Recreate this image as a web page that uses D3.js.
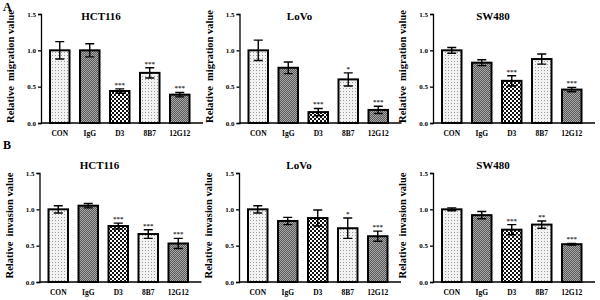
<!DOCTYPE html>
<html>
<head>
<meta charset="utf-8">
<script src="https://cdn.jsdelivr.net/npm/d3@7"></script>
<style>
  body { margin: 0; background: #fff; }
  svg { display: block; font-family: "Liberation Serif", "DejaVu Serif", serif; font-weight: bold; }
</style>
</head>
<body>
<div id="chart"></div>
<script>
// --- data ---
const categories = ["CON", "IgG", "D3", "8B7", "12G12"];
const cellLines = ["HCT116", "LoVo", "SW480"];
const yTicks = [0.0, 0.5, 1.0, 1.5];

const migrationHCT116 = [1.00, 1.00, 0.44, 0.69, 0.39];
const migrationHCT116Err = [0.12, 0.09, 0.03, 0.07, 0.03];
const migrationHCT116Sig = ["", "", "***", "***", "***"];

const migrationLoVo = [1.00, 0.76, 0.15, 0.60, 0.18];
const migrationLoVoErr = [0.14, 0.08, 0.05, 0.09, 0.05];
const migrationLoVoSig = ["", "", "***", "*", "***"];

const migrationSW480 = [1.00, 0.83, 0.58, 0.88, 0.46];
const migrationSW480Err = [0.04, 0.04, 0.07, 0.07, 0.03];
const migrationSW480Sig = ["", "", "***", "", "***"];

const invasionHCT116 = [1.00, 1.05, 0.77, 0.66, 0.53];
const invasionHCT116Err = [0.05, 0.03, 0.04, 0.06, 0.07];
const invasionHCT116Sig = ["", "", "***", "***", "***"];

const invasionLoVo = [1.00, 0.84, 0.88, 0.74, 0.63];
const invasionLoVoErr = [0.05, 0.05, 0.11, 0.14, 0.07];
const invasionLoVoSig = ["", "", "", "*", "***"];

const invasionSW480 = [1.00, 0.92, 0.72, 0.79, 0.52];
const invasionSW480Err = [0.02, 0.05, 0.07, 0.05, 0.01];
const invasionSW480Sig = ["", "", "***", "**", "***"];

const svg = d3.select("#chart").append("svg")
    .attr("width", 600)
    .attr("height", 300);

// Fill patterns (dotted / dark checker / black-white checker)
const defs = svg.append("defs");

const dots = defs.append("pattern").attr("id", "p-dots")
    .attr("patternUnits", "userSpaceOnUse").attr("width", 3).attr("height", 3);
dots.append("rect").attr("width", 3).attr("height", 3).attr("fill", "#f2f2f2");
dots.append("rect").attr("x", 1).attr("y", 1).attr("width", 1).attr("height", 1).attr("fill", "#9a9a9a");

const dark = defs.append("pattern").attr("id", "p-dark")
    .attr("patternUnits", "userSpaceOnUse").attr("width", 2).attr("height", 2);
dark.append("rect").attr("width", 2).attr("height", 2).attr("fill", "#5a5a5a");
dark.append("rect").attr("width", 1).attr("height", 1).attr("fill", "#a8a8a8");
dark.append("rect").attr("x", 1).attr("y", 1).attr("width", 1).attr("height", 1).attr("fill", "#a8a8a8");

const check = defs.append("pattern").attr("id", "p-check")
    .attr("patternUnits", "userSpaceOnUse").attr("width", 4).attr("height", 4);
check.append("rect").attr("width", 4).attr("height", 4).attr("fill", "#fff");
check.append("rect").attr("width", 2).attr("height", 2).attr("fill", "#111");
check.append("rect").attr("x", 2).attr("y", 2).attr("width", 2).attr("height", 2).attr("fill", "#111");

const fills = ["url(#p-dots)", "url(#p-dark)", "url(#p-check)", "url(#p-dots)", "url(#p-dark)"];

// panel geometry
const rows = [
    { letter: "A", letterY: 11, ylabel: "Relative  migration value", y0: 123, y1: 14, titleY: 20, axisX: [41, 239.5, 433],
      values: [migrationHCT116, migrationLoVo, migrationSW480],
      errs: [migrationHCT116Err, migrationLoVoErr, migrationSW480Err],
      sigs: [migrationHCT116Sig, migrationLoVoSig, migrationSW480Sig] },
    { letter: "B", letterY: 149, ylabel: "Relative  invasion value", y0: 282, y1: 173, titleY: 169, axisX: [39.5, 239, 433],
      values: [invasionHCT116, invasionLoVo, invasionSW480],
      errs: [invasionHCT116Err, invasionLoVoErr, invasionSW480Err],
      sigs: [invasionHCT116Sig, invasionLoVoSig, invasionSW480Sig] }
];

function errPath(x, y, cap) {
    return d => {
        const cx = x(d.cat) + x.bandwidth() / 2;
        const t = y(d.v + d.e), b = y(d.v - d.e);
        return `M${cx - cap},${t}H${cx + cap}M${cx},${t}V${b}M${cx - cap},${b}H${cx + cap}`;
    };
}

rows.forEach(row => {
    svg.append("text")
        .attr("x", 3).attr("y", row.letterY)
        .style("font-size", "12px")
        .text(row.letter);

    row.axisX.forEach((ax, i) => {
        const g = svg.append("g");
        const x = d3.scaleBand().domain(categories)
            .range([ax, ax + 157.5])
            .paddingInner(0.35).paddingOuter(0.3);
        const y = d3.scaleLinear().domain([0, 1.5]).range([row.y0, row.y1]);

        const data = categories.map((c, k) => ({
            cat: c, v: row.values[i][k], e: row.errs[i][k], sig: row.sigs[i][k], fill: fills[k]
        }));

        // y axis
        const yAxis = d3.axisLeft(y).tickValues(yTicks).tickFormat(d3.format(".1f")).tickSize(3).tickPadding(2);
        const ga = g.append("g").attr("transform", `translate(${ax},0)`).call(yAxis);
        ga.select(".domain").attr("stroke-width", 1.3);
        ga.selectAll(".tick line").attr("stroke-width", 1.3);
        ga.selectAll("text").style("font-size", "7px").style("font-family", "Liberation Serif").style("font-weight", "bold");

        // x axis line
        g.append("line")
            .attr("x1", ax).attr("x2", ax + 162)
            .attr("y1", row.y0).attr("y2", row.y0)
            .attr("stroke", "#000").attr("stroke-width", 1.3);

        // category labels
        g.selectAll(".cat").data(data).enter().append("text")
            .attr("x", d => x(d.cat) + x.bandwidth() / 2)
            .attr("y", row.y0 + 13)
            .attr("text-anchor", "middle")
            .style("font-size", "7.5px")
            .text(d => d.cat);

        const cap = 4.5;
        // bars
        g.selectAll(".bar").data(data).enter().append("rect")
            .attr("x", d => x(d.cat))
            .attr("y", d => y(d.v))
            .attr("width", x.bandwidth())
            .attr("height", d => y(0) - y(d.v))
            .attr("fill", d => d.fill)
            .attr("stroke", "#000")
            .attr("stroke-width", 2);

        // error bars
        g.selectAll(".err").data(data).enter().append("path")
            .attr("d", errPath(x, y, cap))
            .attr("stroke", "#000").attr("stroke-width", 1.4).attr("fill", "none");

        // significance stars
        g.selectAll(".sig").data(data.filter(d => d.sig)).enter().append("text")
            .attr("x", d => x(d.cat) + x.bandwidth() / 2)
            .attr("y", d => y(d.v + d.e) - 2)
            .attr("text-anchor", "middle")
            .style("font-size", "7px")
            .style("fill", "#333")
            .text(d => d.sig);

        // title
        g.append("text")
            .attr("x", ax + 60)
            .attr("y", row.titleY)
            .attr("text-anchor", "middle")
            .style("font-size", "11px")
            .text(cellLines[i]);

        // y label
        g.append("text")
            .attr("transform", `translate(${ax - 27},${(row.y0 + row.y1) / 2 - 2}) rotate(-90)`)
            .attr("text-anchor", "middle")
            .style("font-size", "10.5px")
            .attr("xml:space", "preserve")
            .text(row.ylabel);
    });
});
</script>
</body>
</html>
